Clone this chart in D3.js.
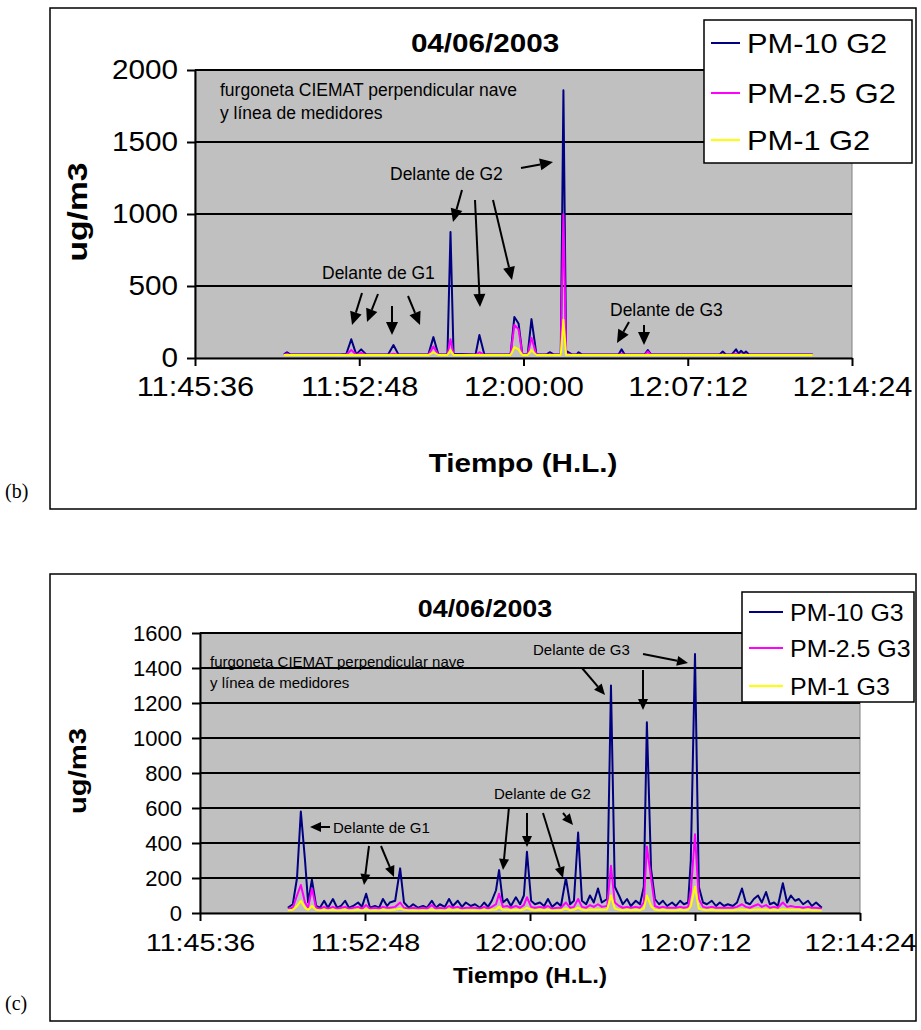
<!DOCTYPE html>
<html>
<head>
<meta charset="utf-8">
<script src="https://cdn.jsdelivr.net/npm/d3@7"></script>
<style>
body { margin: 0; background: #fff; }
</style>
</head>
<body>
<div class="top"></div>
<script>

// ---- data ----
const xTickLabels = ["11:45:36", "11:52:48", "12:00:00", "12:07:12", "12:14:24"];

const yTicksB = [0, 500, 1000, 1500, 2000];
const seriesB = ["PM-10 G2", "PM-2.5 G2", "PM-1 G2"];
const timesB = [
  "11:49:30","11:49:38","11:49:46","11:51:58","11:52:14","11:52:27","11:52:40","11:52:53","11:53:06","11:54:04",
  "11:54:18","11:54:31","11:55:50","11:56:03","11:56:16","11:56:40","11:56:48","11:56:56","11:57:54","11:58:04",
  "11:58:17","11:59:26","11:59:36","11:59:47","11:59:57","12:00:11","12:00:21","12:00:34","12:01:01","12:01:09",
  "12:01:19","12:01:38","12:01:45","12:01:52","12:02:07","12:02:20","12:02:25","12:02:33","12:04:10","12:04:18",
  "12:04:26","12:05:19","12:05:27","12:05:35","12:08:36","12:08:44","12:08:52","12:09:08","12:09:19","12:09:26",
  "12:09:32","12:09:40","12:09:45","12:09:53","12:12:41"];
const pm10B = [
  25,40,25,25,28,130,25,60,25,25,
  90,25,25,145,25,25,875,30,25,160,
  25,25,285,240,25,25,270,25,25,40,
  25,25,1860,50,25,25,40,25,25,60,
  25,25,55,25,25,45,25,25,60,30,
  50,30,45,25,25];
const pm25B = [
  22,30,22,22,22,55,22,35,22,22,
  30,22,22,80,22,22,130,22,22,40,
  22,22,230,200,22,22,140,22,22,25,
  22,22,1000,30,22,22,25,22,22,30,
  22,22,45,22,22,25,22,22,30,22,
  25,22,25,22,22];
const pm1B = [
  20,20,20,20,20,20,20,20,20,20,
  20,20,20,40,20,20,55,20,20,20,
  20,20,75,60,20,20,55,20,20,20,
  20,20,265,22,20,20,20,20,20,20,
  20,20,20,20,20,20,20,20,20,20,
  20,20,20,20,20];

const yTicksC = [0, 200, 400, 600, 800, 1000, 1200, 1400, 1600];
const seriesC = ["PM-10 G3", "PM-2.5 G3", "PM-1 G3"];
const timesC = [
  "11:49:26","11:49:39","11:49:50","11:50:00","11:50:11","11:50:19","11:50:29","11:50:40","11:50:50","11:51:01",
  "11:51:11","11:51:24","11:51:35","11:51:45","11:51:56","11:52:06","11:52:17","11:52:30","11:52:40","11:52:51",
  "11:53:01","11:53:14","11:53:25","11:53:35","11:53:46","11:53:53","11:54:07","11:54:20","11:54:30","11:54:43",
  "11:54:54","11:55:07","11:55:20","11:55:30","11:55:43","11:55:54","11:56:04","11:56:17","11:56:28","11:56:38",
  "11:56:51","11:57:02","11:57:12","11:57:25","11:57:36","11:57:49","11:58:00","11:58:10","11:58:20","11:58:31",
  "11:58:39","11:58:49","11:59:00","11:59:10","11:59:23","11:59:34","11:59:44","11:59:52","12:00:03","12:00:13",
  "12:00:26","12:00:37","12:00:47","12:00:58","12:01:11","12:01:21","12:01:34","12:01:45","12:01:55","12:02:06",
  "12:02:16","12:02:27","12:02:37","12:02:47","12:02:58","12:03:08","12:03:22","12:03:32","12:03:42","12:03:53",
  "12:04:03","12:04:14","12:04:24","12:04:37","12:04:48","12:04:58","12:05:06","12:05:17","12:05:27","12:05:38",
  "12:05:48","12:05:59","12:06:12","12:06:22","12:06:33","12:06:43","12:06:54","12:07:01","12:07:12","12:07:22",
  "12:07:33","12:07:43","12:07:56","12:08:07","12:08:17","12:08:28","12:08:38","12:08:51","12:09:02","12:09:15",
  "12:09:25","12:09:36","12:09:46","12:09:57","12:10:07","12:10:18","12:10:28","12:10:39","12:10:49","12:11:02",
  "12:11:13","12:11:23","12:11:34","12:11:44","12:11:55","12:12:08","12:12:18","12:12:29","12:12:44"];
const pm10C = [
  30,50,200,580,300,60,190,40,30,70,
  30,80,30,40,70,30,40,60,35,110,
  30,40,30,80,40,60,70,255,60,30,
  50,30,40,30,70,30,50,35,80,40,
  70,35,60,40,50,30,60,35,70,130,
  245,60,80,40,90,50,100,350,70,50,
  60,40,80,35,60,40,200,50,70,460,
  70,50,100,60,140,60,80,1300,150,100,
  50,80,40,70,50,150,1090,250,80,50,
  70,40,60,40,70,50,60,300,1480,150,
  60,50,70,40,60,40,50,40,60,140,
  60,50,80,100,60,120,50,60,40,170,
  60,100,70,80,50,70,40,60,30];
const pm25C = [
  25,30,100,160,60,30,140,30,25,35,
  25,35,25,30,35,25,30,35,25,45,
  25,30,25,35,30,30,35,60,30,25,
  30,25,30,25,45,25,30,25,40,30,
  35,25,30,30,30,25,35,25,35,50,
  110,35,40,30,40,30,45,90,35,30,
  35,30,40,25,30,30,60,30,35,80,
  35,30,45,35,50,35,40,270,60,40,
  30,35,30,35,30,60,380,200,40,30,
  35,30,30,30,35,30,35,120,450,80,
  35,30,35,30,30,30,30,30,35,50,
  35,30,40,50,35,45,30,35,30,60,
  35,40,35,35,30,35,30,30,25];
const pm1C = [
  15,18,40,70,30,18,40,18,15,18,
  15,18,15,16,18,15,16,18,15,20,
  15,16,15,18,16,16,18,25,18,15,
  16,15,16,15,18,15,16,15,18,16,
  18,15,16,16,16,15,18,15,18,20,
  35,18,18,16,18,16,20,30,18,16,
  18,16,18,15,16,16,25,16,18,30,
  18,16,20,18,20,18,20,100,25,18,
  16,18,16,18,16,25,100,40,18,16,
  18,16,16,16,18,16,18,40,150,25,
  18,16,18,16,16,16,16,16,18,20,
  18,16,18,20,18,20,16,18,16,22,
  18,18,18,18,16,18,16,16,15];

const colors = ["#000080", "#ff00ff", "#ffff00"];
const FONT = "'Liberation Sans', Arial, sans-serif";
const parseT = d3.timeParse("%H:%M:%S");

const svg = d3.select('.top').append('svg')
  .attr('width', 921).attr('height', 1030)
  .style('display', 'block');

function arrow(g, a, len, w) {
  const [x1, y1, x2, y2] = a;
  const ang = Math.atan2(y2 - y1, x2 - x1);
  const bx = x2 - len * Math.cos(ang), by = y2 - len * Math.sin(ang);
  g.append('line')
    .attr('x1', x1).attr('y1', y1).attr('x2', bx).attr('y2', by)
    .attr('stroke', '#000').attr('stroke-width', 2);
  g.append('path')
    .attr('d', `M${x2},${y2}L${bx + w * Math.sin(ang)},${by - w * Math.cos(ang)}L${bx - w * Math.sin(ang)},${by + w * Math.cos(ang)}Z`)
    .attr('fill', '#000');
}

// text that is drawn a bit wider than its font, as in the scanned original
function label(g, x, y, size, sx, bold, anchor, str) {
  return g.append('text')
    .attr('transform', `translate(${x},${y}) scale(${sx},1)`)
    .attr('text-anchor', anchor)
    .style('font-family', FONT)
    .style('font-weight', bold ? 'bold' : 'normal')
    .style('font-size', size + 'px')
    .text(str);
}

function panel(c) {
  const g = svg.append('g');
  const [px0, px1, py0, py1] = c.plot;

  g.append('rect')
    .attr('x', c.frame[0]).attr('y', c.frame[1])
    .attr('width', c.frame[2]).attr('height', c.frame[3])
    .attr('fill', '#fff').attr('stroke', '#000').attr('stroke-width', 1.5);

  const x = d3.scaleTime()
    .domain([parseT(xTickLabels[0]), parseT(xTickLabels[xTickLabels.length - 1])])
    .range([px0, px1]);
  const y = d3.scaleLinear()
    .domain([0, d3.max(c.yTicks)])
    .range([py1, py0]);

  g.append('rect')
    .attr('x', px0).attr('y', py0)
    .attr('width', px1 - px0).attr('height', py1 - py0)
    .attr('fill', '#c0c0c0').attr('stroke', '#808080').attr('stroke-width', 1);

  g.append('g').selectAll('line')
    .data(c.yTicks.slice(1))
    .join('line')
      .attr('x1', px0).attr('x2', px1)
      .attr('y1', d => y(d)).attr('y2', d => y(d))
      .attr('stroke', '#000').attr('stroke-width', 2);

  // series
  const line = d3.line().x(d => x(d.t)).y(d => y(d.v));
  c.values.forEach((vals, k) => {
    const pts = c.times.map((t, i) => ({ t: parseT(t), v: vals[i] }));
    g.append('path')
      .datum(pts)
      .attr('d', line)
      .attr('fill', 'none')
      .attr('stroke', colors[k])
      .attr('stroke-width', 2)
      .attr('stroke-linejoin', 'round');
  });

  // axes
  g.append('g')
    .attr('transform', `translate(${px0},0)`)
    .call(d3.axisLeft(y).tickValues(c.yTicks).tickFormat(d3.format('d'))
      .tickSize(8).tickSizeOuter(0).tickPadding(c.yPad))
    .call(s => {
      s.attr('font-family', FONT).attr('font-size', c.yTick[0]);
      s.select('.domain').attr('stroke', '#000').attr('stroke-width', 2);
      s.selectAll('.tick line').attr('stroke', '#000').attr('stroke-width', 2);
      s.selectAll('text').attr('fill', '#000')
        .attr('x', -(8 + c.yPad) / c.yTick[1])
        .attr('transform', `scale(${c.yTick[1]},1)`);
    });

  g.append('g')
    .attr('transform', `translate(0,${py1})`)
    .call(d3.axisBottom(x).tickValues(xTickLabels.map(parseT))
      .tickFormat(d3.timeFormat('%H:%M:%S')).tickSize(8).tickSizeOuter(0).tickPadding(c.xPad))
    .call(s => {
      s.attr('font-family', FONT).attr('font-size', c.xTick[0]);
      s.select('.domain').attr('stroke', '#000').attr('stroke-width', 2);
      s.selectAll('.tick line').attr('stroke', '#000').attr('stroke-width', 2);
      s.selectAll('text').attr('fill', '#000')
        .attr('transform', `scale(${c.xTick[1]},1)`);
    });

  // titles
  label(g, c.title[0], c.title[1], c.title[2], c.title[3], true, 'middle', '04/06/2003');
  label(g, c.xTitle[0], c.xTitle[1], c.xTitle[2], c.xTitle[3], true, 'middle', 'Tiempo (H.L.)');
  g.append('text')
    .attr('transform', `translate(${c.yTitle[0]},${c.yTitle[1]}) rotate(-90) scale(${c.yTitle[3]},1)`)
    .attr('text-anchor', 'middle')
    .style('font-family', FONT).style('font-weight', 'bold').style('font-size', c.yTitle[2] + 'px')
    .text('ug/m3');

  // annotations
  const notes = g.append('g')
    .style('font-family', FONT).style('font-size', c.noteSize + 'px');
  c.notes.forEach(n => {
    notes.append('text').attr('x', n[1]).attr('y', n[2]).text(n[0]);
  });
  c.arrows.forEach(a => arrow(g, a, c.head[0], c.head[1]));

  // legend
  const lg = g.append('g');
  const b = c.legend.box;
  lg.append('rect')
    .attr('x', b[0]).attr('y', b[1]).attr('width', b[2]).attr('height', b[3])
    .attr('fill', '#fff').attr('stroke', '#000').attr('stroke-width', 1.5);
  lg.selectAll('g')
    .data(c.series)
    .join('g')
      .attr('transform', (d, i) => `translate(0,${c.legend.rows[i]})`)
      .call(sel => {
        sel.append('line')
          .attr('x1', c.legend.line[0]).attr('x2', c.legend.line[1])
          .attr('stroke', (d, i) => colors[i]).attr('stroke-width', 2);
        sel.append('text')
          .attr('transform', `translate(${c.legend.textX},0) scale(${c.legend.sx},1)`)
          .attr('dy', '0.36em')
          .style('font-family', FONT).style('font-size', c.legend.size + 'px')
          .text(d => d);
      });

  g.append('text')
    .attr('x', c.tag[1]).attr('y', c.tag[2])
    .style('font-family', "'Liberation Serif', 'Times New Roman', serif").style('font-size', '20px')
    .text(c.tag[0]);
}

panel({
  frame: [50, 8, 866, 501],
  plot: [195, 852, 70, 358],
  yTicks: yTicksB,
  series: seriesB,
  times: timesB,
  values: [pm10B, pm25B, pm1B],
  yTick: [27, 1.1], yPad: 9,
  xTick: [27, 1.14], xPad: 11,
  title: [485, 52, 26, 1.14],
  yTitle: [87, 212, 28, 1.2],
  xTitle: [523, 472, 26, 1.14],
  legend: { box: [704, 20, 208, 143], rows: [43, 93, 140], line: [711, 740], textX: 747, size: 27, sx: 1.14 },
  noteSize: 17.5,
  notes: [
    ["furgoneta CIEMAT perpendicular nave", 220, 96],
    ["y línea de medidores", 220, 119],
    ["Delante de G2", 390, 180],
    ["Delante de G1", 322, 279],
    ["Delante de G3", 610, 316]
  ],
  arrows: [
    [362, 293, 352, 325], [378, 294, 367, 322], [392, 306, 392, 335], [408, 296, 420, 325],
    [462, 190, 453, 222], [475, 200, 480, 307], [493, 200, 512, 280], [521, 168, 553, 162],
    [629, 322, 617, 343], [644, 325, 644, 345]
  ],
  head: [13, 6],
  tag: ["(b)", 5, 498]
});

panel({
  frame: [50, 574, 866, 447],
  plot: [200, 860, 633, 913],
  yTicks: yTicksC,
  series: seriesC,
  times: timesC,
  values: [pm10C, pm25C, pm1C],
  yTick: [22, 1.0], yPad: 10,
  xTick: [23, 1.25], xPad: 14,
  title: [485, 617, 24, 1.12],
  yTitle: [86, 771, 24, 1.22],
  xTitle: [530, 983, 22, 1.1],
  legend: { box: [742, 592, 172, 110], rows: [612, 648, 686], line: [749, 783], textX: 790, size: 24, sx: 1.04 },
  noteSize: 15,
  notes: [
    ["furgoneta CIEMAT perpendicular nave", 210, 667],
    ["y línea de medidores", 210, 688],
    ["Delante de G3", 533, 655],
    ["Delante de G2", 494, 799],
    ["Delante de G1", 333, 833]
  ],
  arrows: [
    [330, 827, 310, 827], [369, 846, 364, 885], [381, 846, 394, 877],
    [509, 807, 503, 870], [527, 813, 527, 847], [543, 813, 563, 878], [563, 813, 573, 825],
    [582, 668, 605, 695], [643, 670, 643, 710], [643, 654, 688, 663]
  ],
  head: [11, 5],
  tag: ["(c)", 5, 1010]
});

</script>
</body>
</html>
